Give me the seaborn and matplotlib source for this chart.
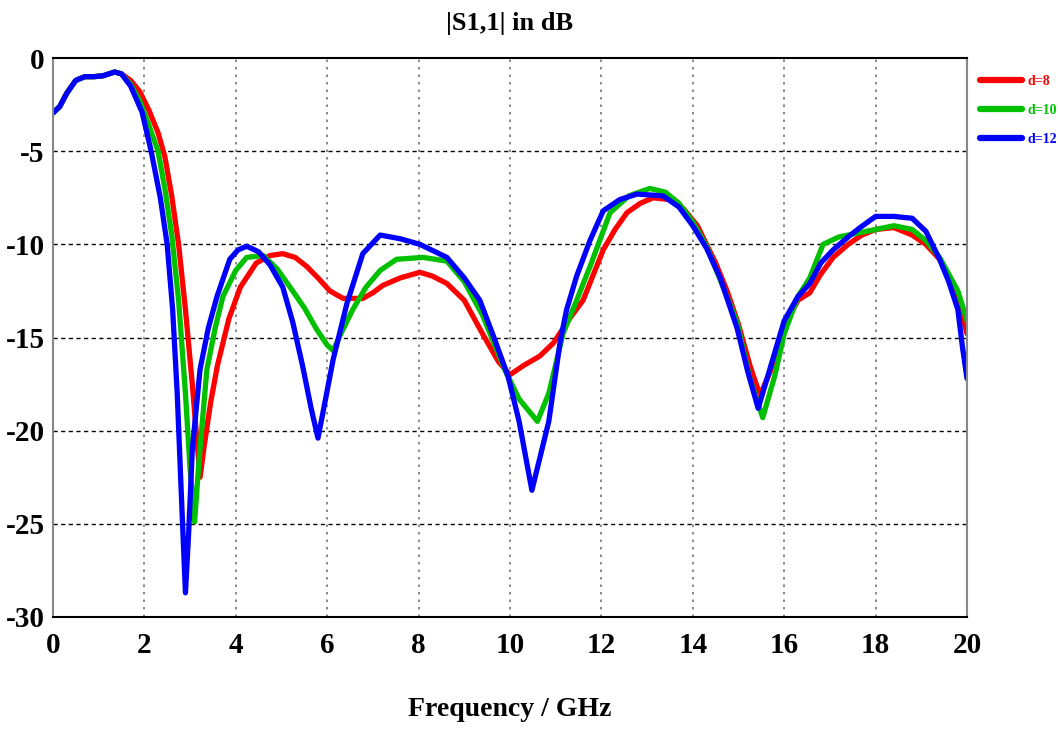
import pandas as pd
import numpy as np
import matplotlib
matplotlib.use("Agg")
import matplotlib.pyplot as plt
import seaborn as sns

# shared start of all three curves (below ~1.5 GHz they overlap)
head_f = [0.0, 0.15, 0.3, 0.5, 0.7, 0.9, 1.1, 1.35, 1.5]
head_s = [-2.95, -2.6, -1.9, -1.2, -1.0, -1.0, -0.95, -0.75, -0.85]

d8_f = [1.7, 1.9, 2.1, 2.3, 2.45, 2.6, 2.75, 2.9, 3.05, 3.15, 3.22, 3.3, 3.45, 3.6,
        3.85, 4.1, 4.45, 4.75, 5.03, 5.3, 5.56, 5.8, 6.06, 6.35, 6.78, 7.0, 7.22,
        7.6, 8.03, 8.3, 8.62, 9.0, 9.4, 9.75, 10.0, 10.3, 10.65, 10.95, 11.3, 11.6,
        12.04, 12.3, 12.56, 12.85, 13.13, 13.5, 13.8, 14.1, 14.5, 14.75, 15.0,
        15.25, 15.47, 15.7, 16.0, 16.3, 16.56, 16.8, 17.07, 17.4, 17.7, 18.0, 18.4,
        18.8, 19.1, 19.4, 19.6, 19.8, 20.0]
d8_s = [-1.2, -1.8, -2.8, -4.0, -5.3, -7.4, -10.0, -13.5, -17.5, -20.5, -22.5, -21.0,
        -18.5, -16.5, -14.0, -12.3, -11.0, -10.6, -10.5, -10.7, -11.2, -11.8, -12.5,
        -12.9, -12.9, -12.6, -12.2, -11.8, -11.5, -11.7, -12.1, -13.0, -14.8, -16.3,
        -17.0, -16.5, -16.0, -15.3, -14.0, -13.0, -10.3, -9.2, -8.3, -7.8, -7.5,
        -7.6, -8.1, -9.0, -11.0, -12.5, -14.3, -16.5, -18.1, -16.8, -14.4, -13.0,
        -12.6, -11.6, -10.7, -10.0, -9.5, -9.2, -9.1, -9.5, -10.0, -10.8, -11.8,
        -12.8, -14.8]

d10_f = [1.7, 1.9, 2.1, 2.3, 2.45, 2.6, 2.75, 2.9, 3.0, 3.1, 3.2, 3.37, 3.55, 3.72,
         4.0, 4.24, 4.6, 4.9, 5.19, 5.5, 5.78, 6.0, 6.13, 6.3, 6.56, 6.85, 7.16,
         7.52, 8.1, 8.62, 9.0, 9.4, 9.9, 10.2, 10.6, 10.85, 11.16, 11.46, 11.75,
         12.19, 12.6, 13.06, 13.4, 13.7, 14.0, 14.3, 14.6, 14.97, 15.25, 15.53,
         15.8, 16.0, 16.3, 16.56, 16.85, 17.2, 17.6, 18.0, 18.4, 18.8, 19.1, 19.4,
         19.8, 20.0]
d10_s = [-1.4, -2.3, -3.6, -5.0, -7.0, -9.5, -13.0, -18.0, -22.0, -24.9, -21.5,
         -16.7, -14.5, -12.8, -11.4, -10.7, -10.6, -11.3, -12.3, -13.4, -14.6,
         -15.4, -15.7, -14.8, -13.5, -12.3, -11.4, -10.8, -10.7, -10.9, -12.0,
         -13.8, -16.8, -18.3, -19.5, -18.0, -14.8, -13.0, -11.2, -8.3, -7.4, -7.0,
         -7.2, -7.8, -8.8, -10.1, -11.9, -14.2, -17.2, -19.3, -17.0, -14.8, -12.8,
         -11.8, -10.0, -9.6, -9.4, -9.2, -9.0, -9.2, -9.8, -10.7, -12.5, -14.1]

d12_f = [1.7, 1.95, 2.15, 2.35, 2.5, 2.62, 2.72, 2.82, 2.9, 2.97, 3.05, 3.22, 3.4,
         3.59, 3.87, 4.05, 4.24, 4.5, 4.75, 5.03, 5.25, 5.47, 5.65, 5.8, 5.95, 6.13,
         6.43, 6.78, 7.16, 7.6, 8.03, 8.62, 9.0, 9.34, 9.65, 9.96, 10.2, 10.48,
         10.65, 10.85, 11.1, 11.24, 11.46, 11.75, 12.04, 12.4, 12.78, 13.35, 13.7,
         14.0, 14.3, 14.6, 14.97, 15.2, 15.43, 15.65, 16.0, 16.3, 16.56, 16.8,
         17.07, 17.4, 17.66, 18.0, 18.4, 18.8, 19.1, 19.4, 19.6, 19.8, 19.9, 20.0]
d12_s = [-1.5, -2.9, -5.0, -7.5, -10.0, -13.5, -18.0, -24.0, -28.7, -25.5, -21.0,
         -16.7, -14.5, -12.8, -10.8, -10.3, -10.1, -10.4, -11.1, -12.3, -14.2,
         -16.6, -18.8, -20.4, -18.5, -16.2, -13.2, -10.5, -9.5, -9.7, -10.0, -10.7,
         -11.8, -13.0, -15.0, -17.1, -19.5, -23.2, -21.5, -19.5, -15.2, -13.5,
         -11.7, -9.8, -8.2, -7.6, -7.3, -7.4, -8.0, -9.0, -10.2, -11.8, -14.5,
         -16.8, -18.8, -17.0, -14.1, -12.8, -12.1, -11.0, -10.3, -9.6, -9.1, -8.5,
         -8.5, -8.6, -9.3, -10.8, -12.0, -13.5, -15.5, -17.2]

labels = ["d=8", "d=10", "d=12"]
colors = ["#ff0000", "#00c000", "#0000ff"]


def build_frame():
    parts = []
    for lab, f, s in zip(labels, [d8_f, d10_f, d12_f], [d8_s, d10_s, d12_s]):
        parts.append(pd.DataFrame({"freq": head_f + f, "s11": head_s + s, "d": lab}))
    return pd.concat(parts, ignore_index=True)


def main():
    df = build_frame()

    sns.set_style("white")
    plt.rcParams["font.family"] = ["Liberation Serif", "DejaVu Serif"]
    plt.rcParams["font.weight"] = "bold"
    plt.rcParams["axes.unicode_minus"] = False
    plt.rcParams["text.color"] = "black"
    plt.rcParams["xtick.color"] = "black"
    plt.rcParams["ytick.color"] = "black"
    plt.rcParams["axes.labelcolor"] = "black"

    fig = plt.figure(figsize=(10.58, 7.3), dpi=100)
    ax = fig.add_axes([0.050, 0.1548, 0.864, 0.7657])

    sns.lineplot(data=df, x="freq", y="s11", hue="d", hue_order=labels,
                 palette=colors, estimator=None, sort=False, linewidth=3.8,
                 ax=ax, legend=False)
    for line in ax.get_lines():
        line.set_solid_capstyle("round")
        line.set_solid_joinstyle("round")

    ax.set_xlim(0, 20)
    ax.set_ylim(-30, 0)
    ax.set_xticks(np.arange(0, 21, 2))
    ax.set_yticks(np.arange(-30, 1, 5))

    # grid: dotted grey verticals, dashed black horizontals
    for xv in range(2, 20, 2):
        ax.axvline(xv, color="#777777", linestyle=(0, (1.5, 3)), linewidth=1.2, zorder=0)
    for yv in range(-25, 0, 5):
        ax.axhline(yv, color="black", linestyle=(0, (3, 2.5)), linewidth=1.0, zorder=0)

    for side in ["top", "bottom"]:
        ax.spines[side].set_color("black")
        ax.spines[side].set_linewidth(1.5)
    for side in ["left", "right"]:
        ax.spines[side].set_color("#888888")
        ax.spines[side].set_linewidth(1.5)

    ax.tick_params(axis="x", direction="inout", length=7, color="#888888",
                   labelcolor="black", labelsize=21, pad=7)
    ax.tick_params(axis="y", direction="in", length=0, labelcolor="black",
                   labelsize=21, pad=6)
    for t in ax.get_xticklabels() + ax.get_yticklabels():
        t.set_fontweight("bold")

    ax.set_xlabel("Frequency / GHz", fontsize=20, fontweight="bold", labelpad=28,
                  color="black")
    ax.set_ylabel("")
    ax.set_title("|S1,1| in dB", fontsize=19, fontweight="bold", pad=20, color="black")

    handles = [plt.Line2D([], [], color=c, linewidth=4.5, solid_capstyle="round")
               for c in colors]
    leg = ax.legend(handles, labels, loc="upper left", bbox_to_anchor=(1.008, 0.98),
                    frameon=False, fontsize=10, handlelength=3.0, handletextpad=0.4,
                    labelspacing=1.15, borderaxespad=0)
    for text, c in zip(leg.get_texts(), colors):
        text.set_color(c)

    fig.savefig("out.png", dpi=100)
    plt.close(fig)


if __name__ == "__main__":
    main()
